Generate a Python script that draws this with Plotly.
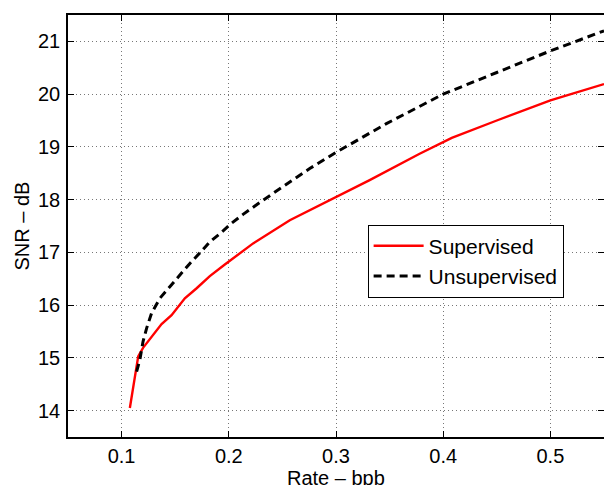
import plotly.graph_objects as go

sup_x = [0.1077, 0.1155, 0.120, 0.128, 0.1373, 0.1466, 0.1543, 0.159, 0.170, 0.1823, 0.1963,
         0.2227, 0.2569, 0.2972, 0.3314, 0.378, 0.408, 0.45, 0.5, 0.55]
sup_y = [14.05, 15.03, 15.19, 15.40, 15.64, 15.81, 16.0, 16.13, 16.32, 16.55, 16.77,
         17.17, 17.61, 18.02, 18.37, 18.87, 19.17, 19.5, 19.88, 20.19]

uns_x = [0.114, 0.117, 0.120, 0.1233, 0.128, 0.1357, 0.145, 0.1543, 0.1637, 0.173, 0.1823,
         0.192, 0.2025, 0.2133, 0.232, 0.2755, 0.3004, 0.347, 0.4, 0.45, 0.5, 0.55]
uns_y = [14.74, 14.96, 15.31, 15.56, 15.85, 16.13, 16.35, 16.57, 16.79, 16.99, 17.2,
         17.36, 17.55, 17.72, 17.99, 18.59, 18.90, 19.44, 20.0, 20.41, 20.82, 21.2]

x_ticks = [0.1, 0.2, 0.3, 0.4, 0.5]
y_ticks = [14, 15, 16, 17, 18, 19, 20, 21]

fig = go.Figure()
fig.add_trace(go.Scatter(x=sup_x, y=sup_y, mode="lines", name="Supervised",
                         line=dict(color="#ff0000", width=2.4)))
fig.add_trace(go.Scatter(x=uns_x, y=uns_y, mode="lines", name="Unsupervised",
                         line=dict(color="black", width=3, dash="8px,5px")))

font = dict(family="Liberation Sans, Arial, sans-serif", size=20, color="black")
axis_common = dict(showline=True, linecolor="black", linewidth=1.5, mirror="ticks",
                   ticks="inside", ticklen=6, tickcolor="black", tickwidth=1.2, showgrid=True,
                   gridcolor="#777", griddash="1px,3px", gridwidth=1, zeroline=False,
                   tickfont=font, automargin=False)

fig.update_layout(
    width=604, height=485,
    margin=dict(l=68, r=0, t=15, b=48),
    paper_bgcolor="white", plot_bgcolor="white",
    font=font,
    showlegend=True,
    legend=dict(x=0.559, y=0.417, xanchor="left", yanchor="middle",
                bordercolor="black", borderwidth=1, bgcolor="white",
                font=dict(family="Liberation Sans, Arial, sans-serif", size=21, color="black"),
                tracegroupgap=0, itemwidth=50),
    xaxis=dict(range=[0.05, 0.55], tickvals=x_ticks, ticktext=[str(v) for v in x_ticks],
               ticklabelstandoff=0, **axis_common),
    yaxis=dict(range=[13.5, 21.5], tickvals=y_ticks, ticktext=[str(v) for v in y_ticks],
               ticklabelstandoff=2,
               title=dict(text="SNR – dB", font=font, standoff=3), **axis_common),
    annotations=[dict(text="Rate – bpb", xref="paper", yref="paper", x=0.5, y=-0.098,
                      xanchor="center", yanchor="middle", showarrow=False, font=font)],
)

fig.write_html("out.html", config={"displayModeBar": False},
               post_script="document.body.style.margin='0';document.body.style.overflow='hidden';")
